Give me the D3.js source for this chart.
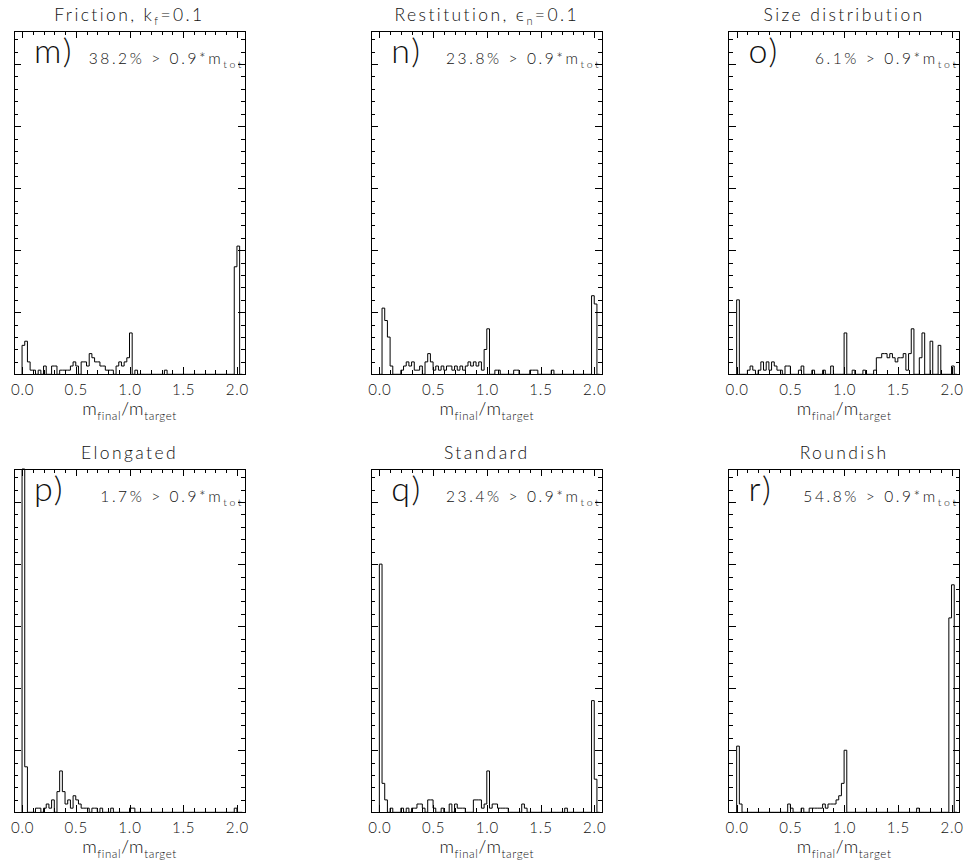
<!DOCTYPE html>
<html>
<head>
<meta charset="utf-8">
<script src="https://cdn.jsdelivr.net/npm/d3@7"></script>
<style>
  body { margin: 0; background: #fff; }
  svg { display: block; }
  text { font-family: Lato, "DejaVu Sans", sans-serif; font-weight: 300; fill: #111; }
</style>
</head>
<body>
<svg id="chart" width="966" height="866"></svg>
<script>
// Histogram bins: width 0.025 in m_final/m_target, starting at 0.0 (82 bins, up to 2.05)
const BIN_WIDTH = 0.025;
const N_RUNS = 300;   // runs per parameter set; bin counts are shown as % of runs

const panelTitles = [
  "Friction, k_{f}=0.1",
  "Restitution, \u03f5_{n}=0.1",
  "Size distribution",
  "Elongated",
  "Standard",
  "Roundish"
];
const panelLetters = ["m)", "n)", "o)", "p)", "q)", "r)"];
const panelShares = ["38.2%", "23.8%", "6.1%", "1.7%", "23.4%", "54.8%"];
const xTickValues = [0, 0.5, 1, 1.5, 2];
const xTickLabels = ["0.0", "0.5", "1.0", "1.5", "2.0"];
const xAxisTitle = "m_{final}/m_{target}";

// Number of runs per bin
const countsFriction = [
  7, 8, 3, 1, 1, 0, 1, 0, 2, 0,
  0, 2, 2, 0, 1, 1, 1, 1, 2, 3,
  2, 0, 3, 3, 2, 5, 4, 3, 3, 2,
  2, 1, 1, 1, 0, 2, 3, 2, 3, 4,
  10, 0, 1, 0, 0, 0, 0, 0, 0, 0,
  0, 0, 0, 1, 0, 0, 0, 0, 0, 0,
  0, 0, 0, 0, 0, 0, 0, 0, 0, 0,
  0, 0, 0, 0, 0, 0, 0, 0, 0, 26,
  31, 0
];
const countsRestitution = [
  0, 16, 13, 9, 2, 0, 0, 0, 1, 2,
  3, 2, 3, 1, 1, 2, 0, 3, 5, 3,
  1, 2, 1, 2, 1, 2, 2, 1, 2, 1,
  2, 1, 2, 3, 2, 3, 2, 3, 1, 6,
  11, 0, 0, 1, 1, 0, 0, 0, 0, 0,
  1, 1, 0, 0, 0, 0, 1, 1, 1, 0,
  0, 0, 0, 0, 1, 0, 0, 0, 0, 0,
  0, 0, 0, 0, 0, 0, 0, 0, 0, 19,
  17, 0
];
const countsSizeDist = [
  18, 0, 0, 0, 1, 2, 1, 0, 1, 3,
  1, 3, 1, 3, 2, 1, 1, 0, 2, 2,
  0, 0, 0, 1, 2, 0, 0, 0, 1, 0,
  0, 0, 1, 0, 0, 2, 0, 0, 0, 0,
  10, 0, 0, 1, 0, 0, 0, 1, 0, 0,
  0, 1, 4, 4, 5, 5, 4, 5, 4, 3,
  4, 4, 5, 1, 5, 11, 0, 0, 4, 10,
  0, 0, 8, 0, 0, 7, 0, 0, 0, 0,
  2, 0
];
const countsElongated = [
  83, 11, 0, 0, 0, 1, 1, 0, 1, 2,
  1, 3, 0, 5, 10, 5, 2, 3, 1, 4,
  3, 2, 1, 1, 1, 0, 1, 1, 0, 1,
  0, 0, 0, 1, 0, 0, 0, 0, 0, 0,
  1, 1, 0, 0, 0, 0, 0, 0, 0, 0,
  0, 0, 0, 0, 0, 0, 0, 0, 0, 0,
  0, 0, 0, 0, 0, 0, 0, 0, 0, 0,
  0, 0, 0, 0, 0, 0, 0, 0, 0, 1,
  0, 0
];
const countsStandard = [
  60, 7, 3, 0, 1, 0, 0, 0, 1, 0,
  1, 0, 1, 1, 2, 2, 1, 0, 3, 3,
  1, 0, 0, 1, 0, 0, 2, 0, 2, 1,
  1, 1, 0, 0, 0, 3, 3, 3, 1, 2,
  10, 1, 2, 2, 1, 1, 1, 1, 0, 0,
  0, 0, 0, 2, 1, 0, 0, 0, 0, 0,
  0, 0, 0, 0, 0, 0, 0, 0, 0, 1,
  0, 0, 0, 0, 0, 0, 0, 0, 0, 27,
  8, 0
];
const countsRoundish = [
  16, 2, 0, 0, 0, 0, 0, 0, 0, 0,
  0, 0, 0, 0, 0, 0, 0, 0, 0, 2,
  1, 0, 0, 0, 1, 0, 0, 1, 1, 1,
  1, 1, 2, 1, 2, 2, 2, 3, 4, 7,
  15, 0, 0, 0, 0, 0, 0, 0, 0, 0,
  0, 0, 0, 0, 0, 0, 0, 0, 0, 0,
  0, 0, 0, 0, 0, 0, 0, 1, 0, 0,
  0, 0, 0, 0, 0, 0, 0, 0, 0, 47,
  55, 0
];
const panelCounts = [countsFriction, countsRestitution, countsSizeDist,
                     countsElongated, countsStandard, countsRoundish];

// ---- layout ----
const svg = d3.select("#chart");
svg.append("rect").attr("width", 966).attr("height", 866).attr("fill", "#fff");

const colLeft = [14, 371.3, 728.6];
const rowTop = [31, 469];
const plotW = 231;
const plotH = 343.3;

const toPercent = c => 100 * c / N_RUNS;
const yMax = d3.max(panelCounts, arr => d3.max(arr, toPercent));

// Writes a string with _{...} subscripts into a text element as tspans
function richText(textSel, str, size, subSize, subShift) {
  const parts = str.split(/_\{([^}]*)\}/);
  let lowered = false;
  parts.forEach((p, i) => {
    if (p === "") return;
    const isSub = i % 2 === 1;
    const t = textSel.append("tspan").text(p).attr("font-size", size);
    if (isSub) t.attr("font-size", subSize);
    if (isSub && !lowered) { t.attr("dy", subShift); lowered = true; }
    else if (!isSub && lowered) { t.attr("dy", -subShift); lowered = false; }
  });
}

panelCounts.forEach((counts, i) => {
  const left = colLeft[i % 3];
  const top = rowTop[Math.floor(i / 3)];
  const g = svg.append("g").attr("transform", `translate(${left},${top})`);

  const x = d3.scaleLinear().domain([-0.075, 2.075]).range([0, plotW]);
  const y = d3.scaleLinear().domain([0, yMax]).range([plotH, 0]);

  // histogram outline (stepped)
  const pts = [[0, 0]];
  counts.forEach((c, k) => {
    const v = toPercent(c);
    pts.push([k * BIN_WIDTH, v]);
    pts.push([(k + 1) * BIN_WIDTH, v]);
  });
  pts.push([counts.length * BIN_WIDTH, 0]);
  const line = d3.line().x(d => x(d[0])).y(d => y(d[1]));
  g.append("path")
    .attr("d", line(pts))
    .attr("fill", "none")
    .attr("stroke", "#000")
    .attr("stroke-width", 1);

  // axes: inward ticks on all four sides
  const xMinor = d3.range(0, 21).map(v => v / 10);
  const yMinor = d3.range(0, Math.floor(yMax) + 1);
  const yMajor = yMinor.filter(v => v % 5 === 0);

  const styleAxis = sel => {
    sel.select(".domain").remove();
    sel.selectAll("line").attr("stroke", "#000").attr("shape-rendering", "crispEdges");
  };

  g.append("g").attr("transform", `translate(0,${plotH})`)
    .call(d3.axisBottom(x).tickValues(xMinor).tickSize(-4).tickFormat(""))
    .call(styleAxis);
  g.append("g")
    .call(d3.axisTop(x).tickValues(xMinor).tickSize(-4).tickFormat(""))
    .call(styleAxis);
  g.append("g")
    .call(d3.axisTop(x).tickValues(xTickValues).tickSize(-7).tickFormat(""))
    .call(styleAxis);
  const bottomMajor = g.append("g").attr("transform", `translate(0,${plotH})`)
    .call(d3.axisBottom(x).tickValues(xTickValues).tickSize(-7).tickPadding(10)
      .tickFormat((d, j) => xTickLabels[j]))
    .call(styleAxis);
  bottomMajor.attr("font-family", null).attr("font-size", null);
  bottomMajor.selectAll("text")
    .attr("font-size", 15)
    .attr("letter-spacing", 0.8)
    .attr("fill", "#111");

  [d3.axisLeft(y), d3.axisRight(y)].forEach((ax, side) => {
    const pos = side === 0 ? 0 : plotW;
    g.append("g").attr("transform", `translate(${pos},0)`)
      .call(ax.tickValues(yMinor).tickSize(-4).tickFormat(""))
      .call(styleAxis);
    g.append("g").attr("transform", `translate(${pos},0)`)
      .call(ax.tickValues(yMajor).tickSize(-7).tickFormat(""))
      .call(styleAxis);
  });

  // frame
  g.append("rect")
    .attr("x", 0).attr("y", 0).attr("width", plotW).attr("height", plotH)
    .attr("fill", "none").attr("stroke", "#000").attr("stroke-width", 1)
    .attr("shape-rendering", "crispEdges");

  // title
  const title = g.append("text")
    .attr("x", plotW / 2).attr("y", -10)
    .attr("text-anchor", "middle")
    .attr("letter-spacing", 2.4);
  richText(title, panelTitles[i], 17.5, 11, 4);

  // panel letter
  g.append("text")
    .attr("x", 20).attr("y", 32)
    .attr("font-size", 34)
    .attr("letter-spacing", 2)
    .text(panelLetters[i]);

  // share of runs above 0.9 of total mass
  const share = g.append("text")
    .attr("x", plotW - 1).attr("y", 33)
    .attr("text-anchor", "end")
    .attr("letter-spacing", 2.6);
  richText(share, `${panelShares[i]} > 0.9*m_{tot}`, 15.5, 10.5, 4);

  // x-axis title
  const xt = g.append("text")
    .attr("x", plotW / 2).attr("y", plotH + 41)
    .attr("text-anchor", "middle")
    .attr("letter-spacing", 0.6);
  richText(xt, xAxisTitle, 18, 11.5, 5);
});
</script>
</body>
</html>
